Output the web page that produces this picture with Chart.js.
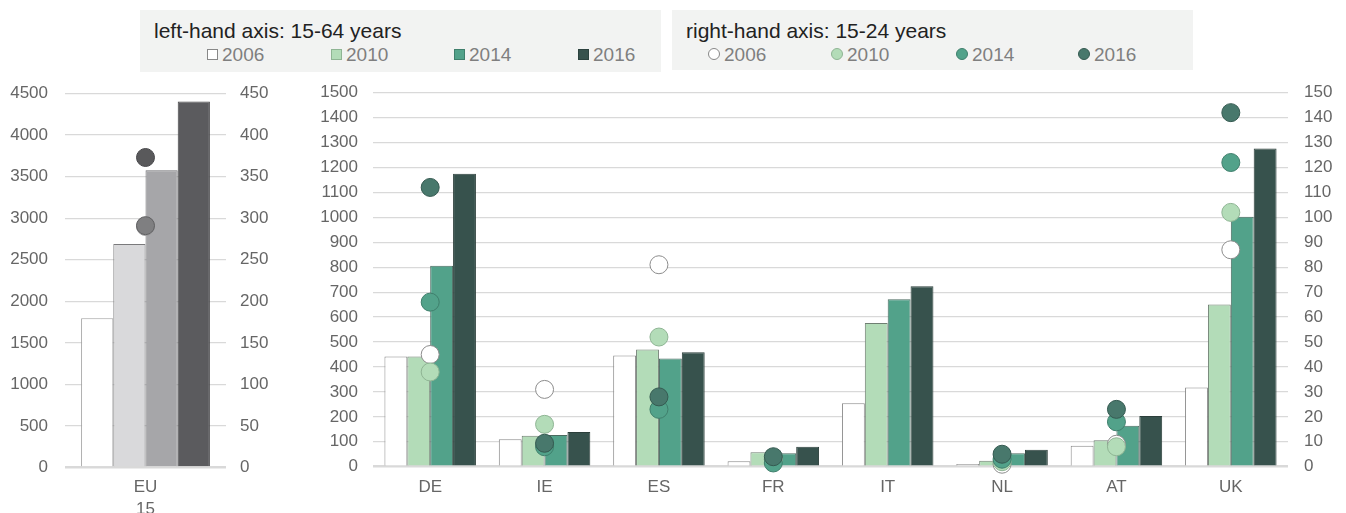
<!DOCTYPE html>
<html>
<head>
<meta charset="utf-8">
<script src="https://cdn.jsdelivr.net/npm/chart.js@4/dist/chart.umd.min.js"></script>
<style>
  body { margin: 0; background: #fff; width: 1346px; height: 513px; overflow: hidden; position: relative; font-family: "Liberation Sans", Arial, sans-serif; }
  .legend { position: absolute; background: #f2f3f2; }
  .legend .title { position: absolute; left: 14px; top: 9px; font-size: 21px; color: #222; line-height: 24px; white-space: nowrap; }
  .legend .item { position: absolute; top: 34px; font-size: 19px; color: #7f7f7f; line-height: 22px; white-space: nowrap; }
  .legend .mk { display: inline-block; width: 11px; height: 11px; margin-right: 4px; vertical-align: 1px; box-sizing: border-box; }
  .legend .round { border-radius: 50%; width: 12px; height: 12px; }
  canvas { position: absolute; top: 80px; }
</style>
</head>
<body>
<div class="legend" style="left:140px; top:10px; width:521px; height:62px;">
  <div class="title">left-hand axis: 15-64 years</div>
  <div class="item" style="left:67px"><span class="mk" style="background:#fff;border:1px solid #888"></span>2006</div>
  <div class="item" style="left:191px"><span class="mk" style="background:#b3dcb8;border:1px solid #8fb594"></span>2010</div>
  <div class="item" style="left:314px"><span class="mk" style="background:#52a28a;border:1px solid #3f7f6c"></span>2014</div>
  <div class="item" style="left:438px"><span class="mk" style="background:#37524d;border:1px solid #2c423e"></span>2016</div>
</div>
<div class="legend" style="left:672px; top:10px; width:521px; height:60px;">
  <div class="title">right-hand axis: 15-24 years</div>
  <div class="item" style="left:36px"><span class="mk round" style="background:#fff;border:1px solid #888"></span>2006</div>
  <div class="item" style="left:159px"><span class="mk round" style="background:#b3dcb8;border:1px solid #8fb594"></span>2010</div>
  <div class="item" style="left:284px"><span class="mk round" style="background:#52a28a;border:1px solid #3f7f6c"></span>2014</div>
  <div class="item" style="left:406px"><span class="mk round" style="background:#48786c;border:1px solid #355a51"></span>2016</div>
</div>

<canvas id="euChart" width="270" height="433" style="left:0px"></canvas>
<canvas id="mainChart" width="1056" height="433" style="left:290px"></canvas>

<script>
// EU15 panel
const euLabels = [['EU', '15']];
const euBars2006 = [1796];
const euBars2010 = [2689];
const euBars2014 = [3578];
const euBars2016 = [4404];
const euDots2006 = [null];
const euDots2010 = [290];
const euDots2014 = [291];
const euDots2016 = [373];

// country panel
const countries = ['DE', 'IE', 'ES', 'FR', 'IT', 'NL', 'AT', 'UK'];
const bars2006 = [442, 110, 446, 22, 254, 11, 84, 318];
const bars2010 = [442, 124, 470, 58, 576, 24, 106, 651];
const bars2014 = [806, 127, 434, 54, 672, 54, 164, 1002];
const bars2016 = [1175, 139, 459, 80, 724, 68, 203, 1276];
const dots2006 = [45, 31, 81, 3, null, 1, 9, 87];
const dots2010 = [38, 17, 52, 3, null, 2, 8, 102];
const dots2014 = [66, 8, 23, 1.5, null, 3, 18, 122];
const dots2016 = [112, 9.4, 28, 4, null, 5, 23, 142];

Chart.defaults.font.family = '"Liberation Sans", Arial, sans-serif';
Chart.defaults.font.size = 17;
Chart.defaults.color = '#666';

const gridColor = '#d9d9d9';

function barSet(data, bg, border, order) {
    return { type: 'bar', data: data, backgroundColor: bg, borderColor: border, borderWidth: 1,
             yAxisID: 'y', order: order, categoryPercentage: 0.8, barPercentage: 1 };
}

function dotSet(data, bg, border, order) {
    return { type: 'line', data: data, showLine: false, backgroundColor: bg, borderColor: border,
             pointBackgroundColor: bg, pointBorderColor: border, pointBorderWidth: 1,
             pointRadius: 9, yAxisID: 'y1', order: order, clip: false };
}

// tick padding also pads the axis ends in v4, so drop that here
function fixAxis(s, w) {
    s.width = w;
    s.paddingTop = 0;
    s.paddingBottom = 0;
}

function makeOptions(cfg) {
    return {
        responsive: false,
        animation: false,
        layout: { autoPadding: false, padding: { top: cfg.top, left: 0, right: 0, bottom: 0 } },
        plugins: { legend: { display: false }, tooltip: { enabled: false } },
        scales: {
            x: {
                grid: { display: false, drawTicks: false },
                border: { display: false },
                ticks: { padding: cfg.xPad, color: '#666', maxRotation: 0, font: { size: 17, lineHeight: cfg.xLine } },
                afterFit: s => { s.height = cfg.xHeight; }
            },
            y: {
                position: 'left', min: 0, max: cfg.leftMax,
                grid: { color: gridColor, drawTicks: false,
                        lineWidth: c => c.tick && c.tick.value === 0 ? 2.5 : 1.3 },
                border: { display: false },
                ticks: { stepSize: cfg.leftStep, padding: cfg.leftPad, color: '#666', callback: v => String(v) },
                afterFit: s => fixAxis(s, cfg.leftWidth)
            },
            y1: {
                position: 'right', min: 0, max: cfg.rightMax,
                grid: { display: false, drawTicks: false },
                border: { display: false },
                ticks: { stepSize: cfg.rightStep, padding: cfg.rightPad, color: '#666', callback: v => String(v) },
                afterFit: s => fixAxis(s, cfg.rightWidth)
            }
        }
    };
}

new Chart(document.getElementById('euChart'), {
    data: {
        labels: euLabels,
        datasets: [
            dotSet(euDots2016, '#59595b', '#47474a', 1),
            dotSet(euDots2014, '#7f7f81', '#5f5f61', 2),
            dotSet(euDots2010, '#d9d9db', '#9a9a9c', 3),
            dotSet(euDots2006, '#ffffff', '#999999', 4),
            barSet(euBars2006, '#ffffff', '#a0a0a0', 10),
            barSet(euBars2010, '#d9d9db', '#7a7a7c', 10),
            barSet(euBars2014, '#a6a6a9', '#707073', 10),
            barSet(euBars2016, '#5b5b5e', '#444446', 10)
        ]
    },
    options: makeOptions({
        top: 13.5, xHeight: 45.5, xPad: 9, xLine: 1.3,
        leftMax: 4500, leftStep: 500, leftPad: 17, leftWidth: 65,
        rightMax: 450, rightStep: 50, rightPad: 14, rightWidth: 44
    })
});

new Chart(document.getElementById('mainChart'), {
    data: {
        labels: countries,
        datasets: [
            dotSet(dots2016, '#48786c', '#355a51', 1),
            dotSet(dots2014, '#52a28a', '#3f7f6c', 2),
            dotSet(dots2010, '#b3dcb8', '#8fb594', 3),
            dotSet(dots2006, '#ffffff', '#8c8c8c', 4),
            barSet(bars2006, '#ffffff', '#888888', 10),
            barSet(bars2010, '#b3dcb8', '#6f7f72', 10),
            barSet(bars2014, '#52a28a', '#4b6a60', 10),
            barSet(bars2016, '#37524d', '#2c3f3b', 10)
        ]
    },
    options: makeOptions({
        top: 12.7, xHeight: 46.3, xPad: 10, xLine: 1.2,
        leftMax: 1500, leftStep: 100, leftPad: 15, leftWidth: 83,
        rightMax: 150, rightStep: 10, rightPad: 16, rightWidth: 58
    })
});
</script>
</body>
</html>
